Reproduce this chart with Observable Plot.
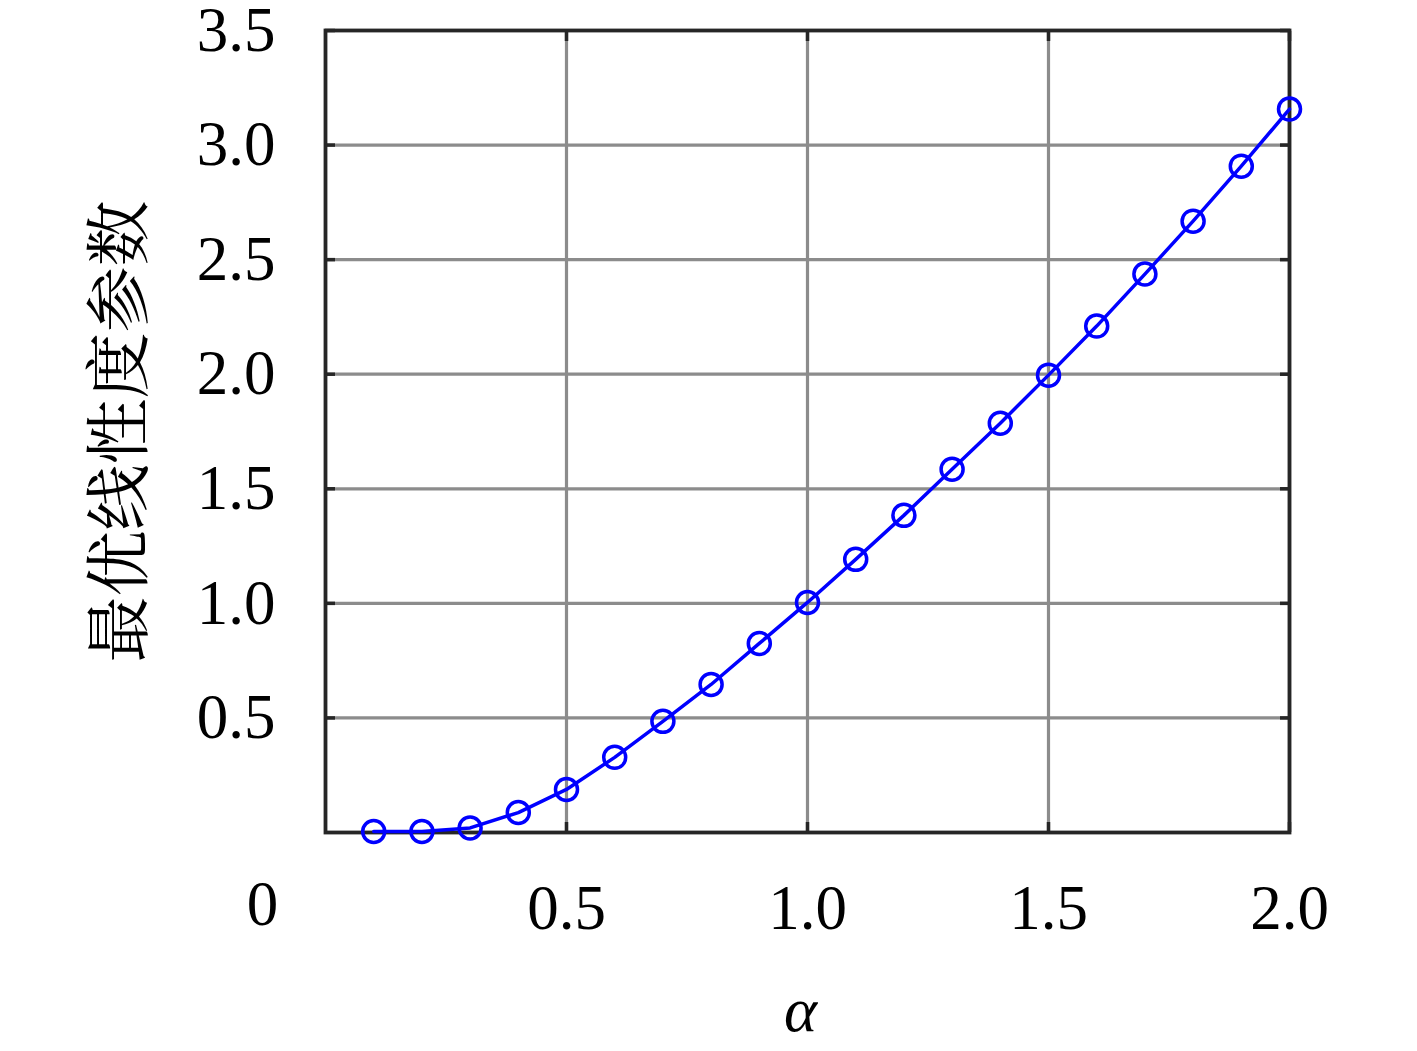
<!DOCTYPE html>
<html>
<head>
<meta charset="utf-8">
<script src="https://cdn.jsdelivr.net/npm/d3@7"></script>
<script src="https://cdn.jsdelivr.net/npm/@observablehq/plot@0.6"></script>
<style>
  html, body { margin: 0; padding: 0; background: #fff; }
  #chart { width: 1417px; height: 1051px; }
</style>
</head>
<body>
<div id="chart"></div>
<script>
// Data
const alphaValues = [0.1, 0.2, 0.3, 0.4, 0.5, 0.6, 0.7, 0.8, 0.9, 1.0,
                     1.1, 1.2, 1.3, 1.4, 1.5, 1.6, 1.7, 1.8, 1.9, 2.0];
const optimalValues = [0.004, 0.004, 0.02, 0.087, 0.188, 0.328, 0.485, 0.646, 0.825, 1.004,
                       1.192, 1.384, 1.585, 1.786, 1.996, 2.21, 2.437, 2.668, 2.908, 3.157];
const xTicks = [0.5, 1.0, 1.5, 2.0];
const xTickLabels = ["0.5", "1.0", "1.5", "2.0"];
const yTicks = [0.5, 1.0, 1.5, 2.0, 2.5, 3.0, 3.5];
const yTickLabels = ["0.5", "1.0", "1.5", "2.0", "2.5", "3.0", "3.5"];
const originLabel = "0";
const xLabel = "α";
const yLabel = "最优线性度参数";

const data = alphaValues.map((a, i) => ({alpha: a, value: optimalValues[i]}));

const serif = "'Liberation Serif', 'DejaVu Serif', serif";
const frameColor = "#262626";
const gridColor = "#8c8c8c";

const chart = Plot.plot({
  width: 1417,
  height: 1051,
  marginLeft: 325,
  marginRight: 128,
  marginTop: 30,
  marginBottom: 219,
  style: {fontFamily: serif, fontSize: "63px", color: "#000", background: "#fff"},
  x: {domain: [0, 2]},
  y: {domain: [0, 3.5]},
  marks: [
    // grid
    Plot.ruleX(xTicks, {stroke: gridColor, strokeWidth: 3.2}),
    Plot.ruleY(yTicks, {stroke: gridColor, strokeWidth: 3.2}),
    // inward ticks on all four sides
    Plot.axisX({anchor: "bottom", ticks: xTicks, tickSize: -10, tickFormat: () => "", stroke: frameColor, strokeWidth: 3.5, label: null}),
    Plot.axisX({anchor: "top", ticks: xTicks, tickSize: -10, tickFormat: () => "", stroke: frameColor, strokeWidth: 3.5, label: null}),
    Plot.axisY({anchor: "left", ticks: yTicks, tickSize: -10, tickFormat: () => "", stroke: frameColor, strokeWidth: 3.5, label: null}),
    Plot.axisY({anchor: "right", ticks: yTicks, tickSize: -10, tickFormat: () => "", stroke: frameColor, strokeWidth: 3.5, label: null}),
    // tick labels
    Plot.axisX({anchor: "bottom", ticks: xTicks, tickSize: 0, tickPadding: 52,
                tickFormat: (d) => xTickLabels[xTicks.indexOf(d)], label: null, fontSize: 63}),
    Plot.axisY({anchor: "left", ticks: yTicks, tickSize: 0, tickPadding: 50,
                tickFormat: (d) => yTickLabels[yTicks.indexOf(d)], label: null, fontSize: 63}),
    Plot.text([originLabel], {x: 0, y: 0, text: (d) => d, dx: -63, dy: 72, fontSize: 63, fontFamily: serif}),
    // frame
    Plot.frame({stroke: frameColor, strokeWidth: 3.8}),
    // data
    Plot.line(data, {x: "alpha", y: "value", stroke: "#0000ff", strokeWidth: 3.5}),
    Plot.dot(data, {x: "alpha", y: "value", r: 11, stroke: "#0000ff", strokeWidth: 3.5, fill: "none"}),
    // axis titles
    Plot.text([xLabel], {x: 1, y: 0, text: (d) => d, dx: -7, dy: 178, fontSize: 63, fontFamily: serif, fontStyle: "italic"}),
    Plot.text([yLabel], {x: 0, y: 1.75, text: (d) => d, dx: -205, rotate: -90, fontSize: 66,
                         fontFamily: "'Noto Serif CJK SC', 'Noto Sans CJK SC', sans-serif"})
  ]
});

document.getElementById("chart").appendChild(chart);
</script>
</body>
</html>
